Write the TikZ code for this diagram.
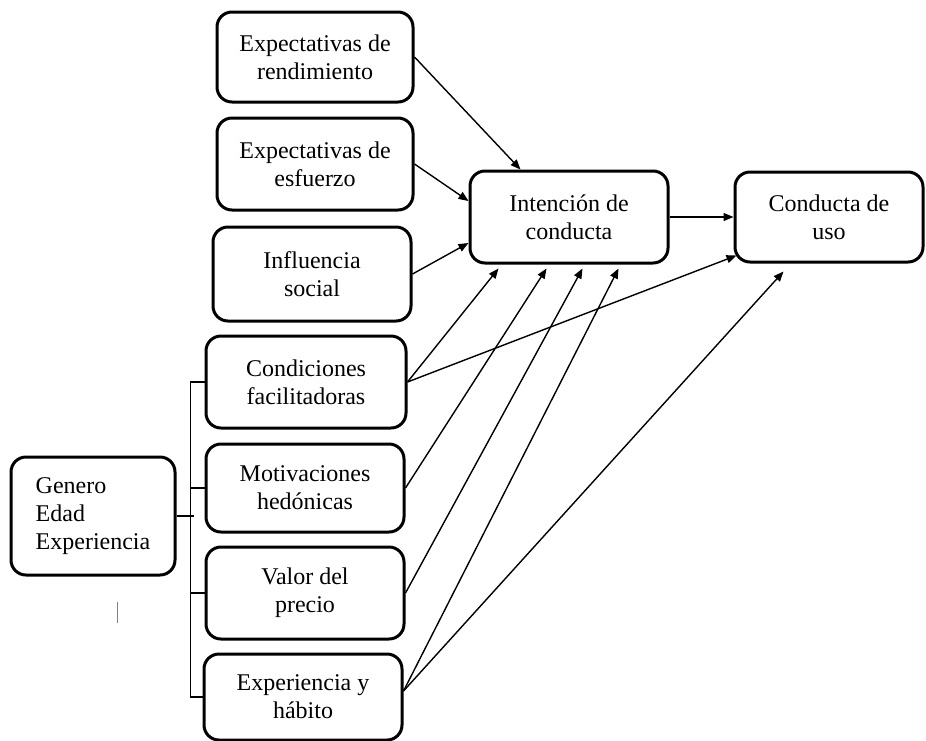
\documentclass[tikz,border=0pt]{standalone}
\usepackage{fontspec}
\setmainfont{Liberation Serif}
\usetikzlibrary{positioning}
\usetikzlibrary{arrows.meta}
\tikzset{
    factor/.style = {
        draw, rectangle, rounded corners=7.5pt, line width=1.5pt, align=center,
        inner sep=0pt, font=\fontsize{12}{14}\selectfont
    },
    link/.style = {
        line width=0.7pt, -{Triangle[length=5pt,width=4pt]}
    },
}

\begin{document}
\begin{tikzpicture}[x=0.5pt, y=-0.5pt]
        \useasboundingbox (0,0) rectangle (926,740);

        % Predictor blocks
        \node [factor, minimum width=98pt, minimum height=45pt] (rend) at (315,57) {Expectativas de\\rendimiento};
        \node [factor, minimum width=98pt, minimum height=46pt] (esf) at (315,164) {Expectativas de\\esfuerzo};
        \node [factor, minimum width=99pt, minimum height=47pt] (infl) at (312,274) {Influencia\\social};
        \node [factor, minimum width=100pt, minimum height=46pt] (cond) at (306,382) {Condiciones\\facilitadoras};
        \node [factor, minimum width=99pt, minimum height=44pt] (motiv) at (305,488) {Motivaciones\\hedónicas};
        \node [factor, minimum width=99pt, minimum height=46pt] (valor) at (305,593) {Valor del\\precio};
        \node [factor, minimum width=99pt, minimum height=43pt] (habit) at (303,697) {Experiencia y\\hábito};

        % Moderators
        \node [factor, align=left, minimum width=82pt, minimum height=59pt] (mod) at (93,516) {Genero\\Edad\\Experiencia};

        % Outcomes
        \node [factor, minimum width=99pt, minimum height=46pt] (int) at (569,217) {Intención de\\conducta};
        \node [factor, minimum width=94pt, minimum height=45pt] (uso) at (829,217) {Conducta de\\uso};

        % Moderator bracket
        \draw [line width=0.7pt] (cond.west) -- ++(-7pt,0) |- (habit.west);
        \draw [line width=0.7pt] (motiv.west) -- ++(-7pt,0);
        \draw [line width=0.7pt] (valor.west) -- ++(-7pt,0);
        \draw [line width=0.7pt] (mod.east) -- ++(8.5pt,0);
        \draw [line width=0.5pt, gray] (117,602) -- (117,623);

        % Draw connections
        \draw [link] (rend.east) -- ([xshift=26pt]int.north west);
        \draw [link] (esf.east) -- ([yshift=8pt]int.west);
        \draw [link] (infl.east) -- ([yshift=-13pt]int.west);
        \draw [link] (cond.east) -- ([xshift=15pt,yshift=-2pt]int.south west);
        \draw [link] (cond.east) -- ([xshift=1.5pt,yshift=4pt]uso.south west);
        \draw [link] (motiv.east) -- ([xshift=39pt,yshift=-2pt]int.south west);
        \draw [link] (valor.east) -- ([xshift=57pt,yshift=-2pt]int.south west);
        \draw [link] ([yshift=3pt]habit.east) -- ([xshift=75pt,yshift=-2pt]int.south west);
        \draw [link] ([yshift=3pt]habit.east) -- ([xshift=25pt,yshift=-4pt]uso.south west);
        \draw [link] (int.east) -- (uso.west);
\end{tikzpicture}
\end{document}
